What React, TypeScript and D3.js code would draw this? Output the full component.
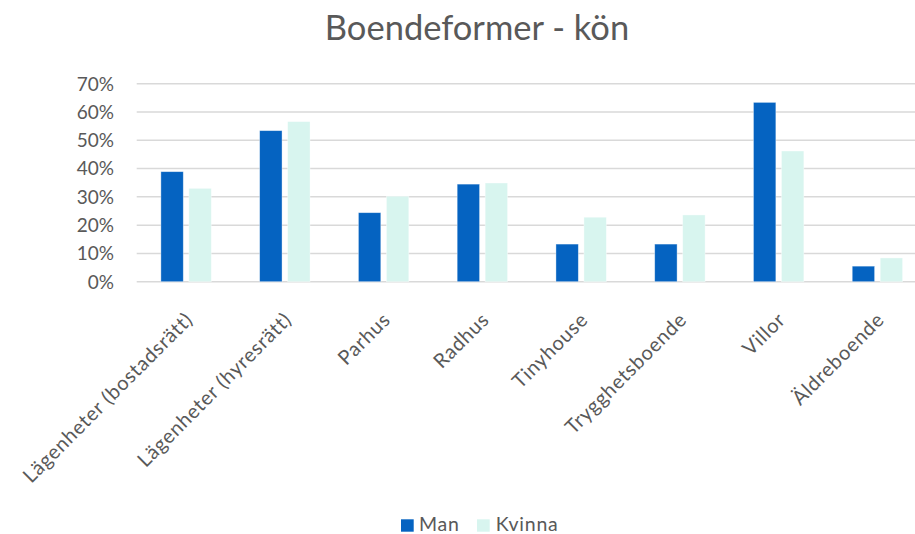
import React from "react";
import { scaleBand, scaleLinear } from "d3";

const categories = [
  "Lägenheter (bostadsrätt)",
  "Lägenheter (hyresrätt)",
  "Parhus",
  "Radhus",
  "Tinyhouse",
  "Trygghetsboende",
  "Villor",
  "Äldreboende",
];
const seriesNames = ["Man", "Kvinna"];
const manValues = [0.389, 0.534, 0.244, 0.345, 0.133, 0.133, 0.634, 0.055];
const kvinnaValues = [0.33, 0.566, 0.302, 0.349, 0.228, 0.236, 0.462, 0.084];
const yTicks = [0, 0.1, 0.2, 0.3, 0.4, 0.5, 0.6, 0.7];
const colors = { Man: "#0563C1", Kvinna: "#D8F5EF" };

const W = 915;
const H = 534;
const font = "Lato, 'Open Sans', sans-serif";
const textColor = "#595959";

export default function App() {
  // the original chart is a bit wider than the picture and is cut off on the right
  const x0 = scaleBand().domain(categories).range([136.7, 926.8]);
  const x1 = scaleBand()
    .domain(seriesNames)
    .range([0, x0.bandwidth()])
    .paddingInner(0.2)
    .paddingOuter(0.864);
  const y = scaleLinear().domain([0, 0.7]).range([281.7, 83.7]);

  const rows = categories.map((c, i) => ({
    name: c,
    Man: manValues[i],
    Kvinna: kvinnaValues[i],
  }));

  return (
    <div style={{ position: "absolute", left: 0, top: 0 }}>
      <svg width={W} height={H} style={{ display: "block", fontFamily: font }}>
        <rect width={W} height={H} fill="#fff" />
        <text
          x={477}
          y={40}
          textAnchor="middle"
          fontSize={34.5}
          fill={textColor}
        >
          Boendeformer - kön
        </text>

        {/* gridlines */}
        {yTicks.map((t) => (
          <line
            key={t}
            x1={136.7}
            x2={926.8}
            y1={y(t)}
            y2={y(t)}
            stroke="#D9D9D9"
            strokeWidth={1.5}
          />
        ))}
        {yTicks.map((t) => (
          <text
            key={"l" + t}
            x={114}
            y={y(t)}
            dy="0.36em"
            textAnchor="end"
            fontSize={19}
            fill={textColor}
          >
            {Math.round(t * 100) + "%"}
          </text>
        ))}

        {/* bars */}
        {seriesNames.map((s) => (
          <g key={s} fill={colors[s]}>
            {rows.map((r) => (
              <rect
                key={r.name}
                x={x0(r.name)! + x1(s)!}
                y={y(r[s])}
                width={x1.bandwidth()}
                height={y(0) - y(r[s])}
                stroke="#ffffff"
                strokeOpacity={0.5}
                strokeWidth={0.75}
              />
            ))}
          </g>
        ))}

        {/* category labels */}
        {categories.map((c) => {
          const cx = x0(c)! + x0.bandwidth() / 2 + 8;
          const cy = 321;
          return (
            <text
              key={c}
              transform={`translate(${cx},${cy}) rotate(-45)`}
              textAnchor="end"
              fontSize={20}
              letterSpacing={0.7}
              fill={textColor}
            >
              {c}
            </text>
          );
        })}

        {/* legend */}
        <g fontSize={19.5} letterSpacing={0.8} fill={textColor}>
          <rect x={401} y={519.3} width={12.7} height={12.4} fill={colors.Man} />
          <text x={419} y={531}>Man</text>
          <rect x={477} y={519.3} width={12.7} height={12.4} fill={colors.Kvinna} />
          <text x={495.7} y={531}>Kvinna</text>
        </g>
      </svg>
    </div>
  );
}
